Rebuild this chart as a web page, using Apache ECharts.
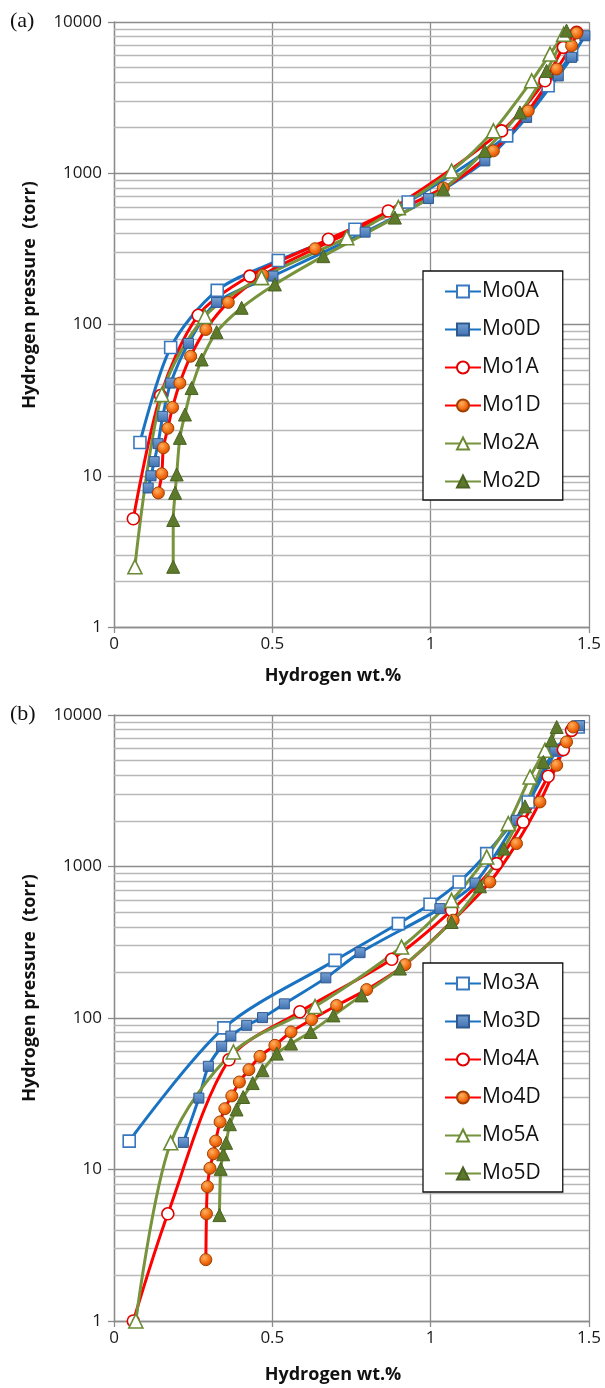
<!DOCTYPE html>
<html>
<head>
<meta charset="utf-8">
<script src="https://cdn.jsdelivr.net/npm/echarts@6/dist/echarts.min.js"></script>
<style>
html,body{margin:0;padding:0;background:#fff;}
#c{width:605px;height:1388px;}
</style>
</head>
<body>
<div id="c"></div>
<script>
// ---------- DATA (wt.% , torr) ----------
var Mo0A = [[0.082,16.6],[0.179,70.5],[0.326,168],[0.519,265],[0.761,426],[0.929,646],[1.24,1766],[1.371,3786],[1.445,6100]];
var Mo0D = [[0.108,8.3],[0.117,10],[0.127,12.4],[0.139,16.3],[0.154,24.7],[0.179,41],[0.235,75],[0.324,140],[0.502,209],[0.793,408],[0.993,680],[1.171,1207],[1.303,2339],[1.403,4400],[1.445,5838],[1.487,8110]];
var Mo1A = [[0.061,5.2],[0.147,33.9],[0.266,115],[0.429,209],[0.677,366],[0.866,563],[1.224,1906],[1.361,4085],[1.419,6800],[1.461,8550]];
var Mo1D = [[0.140,7.7],[0.151,10.3],[0.156,15.3],[0.170,20.6],[0.185,28.3],[0.208,41],[0.242,61.7],[0.290,92.7],[0.361,140],[0.470,212],[0.635,317],[1.040,800],[1.198,1406],[1.308,2585],[1.398,4886],[1.445,6970],[1.461,8460]];
var Mo2A = [[0.066,2.5],[0.151,34.4],[0.287,113],[0.466,204],[0.735,375],[0.898,593],[1.066,1036],[1.198,1906],[1.319,4085],[1.377,6140],[1.420,8300]];
var Mo2D = [[0.187,2.5],[0.187,5.1],[0.193,7.7],[0.198,10.2],[0.208,17.8],[0.224,25.4],[0.245,38],[0.277,58.7],[0.324,89],[0.403,129],[0.508,184],[0.661,283],[0.887,509],[1.040,783],[1.171,1406],[1.282,2525],[1.366,4750],[1.429,8770]];

var Mo3A = [[0.048,15.4],[0.347,86],[0.698,240],[0.898,420],[0.998,563],[1.090,790],[1.177,1217],[1.308,2667],[1.398,5850],[1.466,8330]];
var Mo3D = [[0.219,15.1],[0.268,29.6],[0.298,48],[0.340,65],[0.369,76],[0.419,89.5],[0.469,100.6],[0.538,124],[0.669,184],[0.777,270],[1.029,527],[1.140,778],[1.271,2018],[1.392,5850],[1.470,8500]];
var Mo4A = [[0.061,1.0],[0.170,5.1],[0.363,53],[0.587,110],[0.877,244],[1.066,514],[1.208,1045],[1.292,1968],[1.371,3940],[1.419,5910],[1.445,7920]];
var Mo4D = [[0.290,2.54],[0.292,5.1],[0.295,7.7],[0.303,10.2],[0.314,12.7],[0.321,15.4],[0.335,20.6],[0.350,25.2],[0.372,30.6],[0.396,37.8],[0.426,45.6],[0.461,55.8],[0.508,66],[0.559,80.9],[0.624,97.6],[0.703,121],[0.798,154],[0.919,225],[1.071,442],[1.187,790],[1.271,1416],[1.345,2667],[1.398,4655],[1.429,6640],[1.450,8330]];
var Mo5A = [[0.069,1.0],[0.179,15],[0.377,59.7],[0.635,119],[0.908,294],[1.066,598],[1.177,1155],[1.245,1920],[1.314,3900],[1.361,5850]];
var Mo5D = [[0.333,5.0],[0.337,10.1],[0.345,12.6],[0.354,15],[0.366,19.9],[0.387,24.9],[0.408,30.1],[0.438,37.2],[0.469,45.2],[0.514,58.2],[0.559,67.8],[0.621,80.9],[0.693,104],[0.782,141],[0.903,212],[1.066,430],[1.156,740],[1.231,1313],[1.298,2495],[1.356,4900],[1.382,6810],[1.398,8330]];

var xTicks = [0, 0.5, 1, 1.5];
var decades = [1, 10, 100, 1000];
var minorMult = [2, 3, 4, 5, 6, 7, 8, 9];
var legendA = ['Mo0A','Mo0D','Mo1A','Mo1D','Mo2A','Mo2D'];
var legendB = ['Mo3A','Mo3D','Mo4A','Mo4D','Mo5A','Mo5D'];

// ---------- STYLES ----------
var BLUE = '#1a73c2', RED = '#ff0000', GREEN = '#77933c';
var orangeFill = {type:'radial', x:0.4, y:0.35, r:0.7, colorStops:[{offset:0,color:'#ffb060'},{offset:0.6,color:'#f26a0f'},{offset:1,color:'#c44a00'}]};
var blueFill = {type:'linear', x:0, y:0, x2:0, y2:1, colorStops:[{offset:0,color:'#7aa3d6'},{offset:1,color:'#3d6fb0'}]};
var styles = {
  A0:{color:BLUE, symbol:'rect', size:12, fill:'#fff', border:'#3a78bd', bw:1.6},
  D0:{color:BLUE, symbol:'rect', size:10, fill:blueFill, border:'#2f5a8f', bw:1},
  A1:{color:RED, symbol:'circle', size:12, fill:'#fff', border:'#e00000', bw:1.6},
  D1:{color:RED, symbol:'circle', size:12, fill:orangeFill, border:'#a04000', bw:1},
  A2:{color:GREEN, symbol:'triangle', size:14, fill:'#fff', border:'#6b8a33', bw:1.6},
  D2:{color:GREEN, symbol:'triangle', size:13, fill:'#5d7a2c', border:'#4a6222', bw:1}
};

function mkSeries(name, data, st, idx){
  return {
    name:name, type:'line', xAxisIndex:idx, yAxisIndex:idx, data:data,
    smooth:0.3, symbol:st.symbol, symbolSize:st.size, showSymbol:true,
    lineStyle:{color:st.color, width:3},
    itemStyle:{color:st.fill, borderColor:st.border, borderWidth:st.bw},
    z:3, animation:false, emphasis:{disabled:true}
  };
}
function minorLines(idx){
  var d = [];
  decades.forEach(function(dec){ minorMult.forEach(function(m){ d.push({yAxis: m*dec}); }); });
  return {
    type:'line', xAxisIndex:idx, yAxisIndex:idx, data:[], silent:true, animation:false,
    markLine:{silent:true, z:1, symbol:['none','none'], label:{show:false}, animation:false,
      lineStyle:{color:'#b8b8b8', width:1.3, type:'solid'}, emphasis:{disabled:true}, data:d}
  };
}
function xAx(idx){
  return {gridIndex:idx, type:'value', min:0, max:1.5, interval:0.5,
    axisLine:{show:true, onZero:false, lineStyle:{color:'#8c8c8c', width:1.3}},
    axisTick:{show:true, length:6, lineStyle:{color:'#8c8c8c', width:1.3}},
    axisLabel:{fontFamily:'Open Sans', fontSize:17, color:'#1a1a1a', margin:9,
      formatter:function(v){ return String(v); }},
    splitLine:{show:true, lineStyle:{color:'#8c8c8c', width:1.3}}
  };
}
function yAx(idx){
  return {gridIndex:idx, type:'log', logBase:10, min:1, max:10000,
    axisLine:{show:true, lineStyle:{color:'#8c8c8c', width:1.3}},
    axisTick:{show:true, length:6, lineStyle:{color:'#8c8c8c', width:1.3}},
    axisLabel:{fontFamily:'Open Sans', fontSize:17, color:'#1a1a1a', margin:12,
      formatter:function(v){ return String(Math.round(v)); }},
    splitLine:{show:true, lineStyle:{color:'#8c8c8c', width:1.3}}
  };
}
function legendCfg(names, top){
  return {data:names, orient:'vertical', left:423, top:top,
    padding:[10, 22, 8, 21], itemGap:17, itemWidth:36, itemHeight:15,
    backgroundColor:'#fff', borderColor:'#111', borderWidth:1.3,
    textStyle:{fontFamily:'Open Sans', fontSize:21, color:'#111', padding:[0,0,0,-4]},
    selectedMode:false};
}

var chart = echarts.init(document.getElementById('c'), null, {renderer:'canvas'});
var titleFont = 'bold 18px "Open Sans"';
chart.setOption({
  backgroundColor:'#fff',
  animation:false,
  grid:[
    {left:114, top:22, width:475, height:605},
    {left:114, top:715, width:475, height:606}
  ],
  xAxis:[xAx(0), xAx(1)],
  yAxis:[yAx(0), yAx(1)],
  legend:[legendCfg(legendA, 271), legendCfg(legendB, 963)],
  series:[
    minorLines(0), minorLines(1),
    mkSeries('Mo0A', Mo0A, styles.A0, 0),
    mkSeries('Mo0D', Mo0D, styles.D0, 0),
    mkSeries('Mo1A', Mo1A, styles.A1, 0),
    mkSeries('Mo1D', Mo1D, styles.D1, 0),
    mkSeries('Mo2A', Mo2A, styles.A2, 0),
    mkSeries('Mo2D', Mo2D, styles.D2, 0),
    mkSeries('Mo3A', Mo3A, styles.A0, 1),
    mkSeries('Mo3D', Mo3D, styles.D0, 1),
    mkSeries('Mo4A', Mo4A, styles.A1, 1),
    mkSeries('Mo4D', Mo4D, styles.D1, 1),
    mkSeries('Mo5A', Mo5A, styles.A2, 1),
    mkSeries('Mo5D', Mo5D, styles.D2, 1)
  ],
  graphic:[
    {type:'text', left:10, top:10, style:{text:'(a)', font:'22px "Liberation Serif"', fill:'#111'}},
    {type:'text', left:10, top:703, style:{text:'(b)', font:'22px "Liberation Serif"', fill:'#111'}},
    {type:'text', x:30, y:295, rotation:Math.PI/2, style:{text:'Hydrogen pressure  (torr)', font:titleFont, fill:'#111', align:'center', verticalAlign:'middle'}},
    {type:'text', x:30, y:988, rotation:Math.PI/2, style:{text:'Hydrogen pressure  (torr)', font:titleFont, fill:'#111', align:'center', verticalAlign:'middle'}},
    {type:'text', x:333, y:676, style:{text:'Hydrogen wt.%', font:titleFont, fill:'#111', align:'center', verticalAlign:'middle'}},
    {type:'text', x:333, y:1375, style:{text:'Hydrogen wt.%', font:titleFont, fill:'#111', align:'center', verticalAlign:'middle'}}
  ]
});
</script>
</body>
</html>
